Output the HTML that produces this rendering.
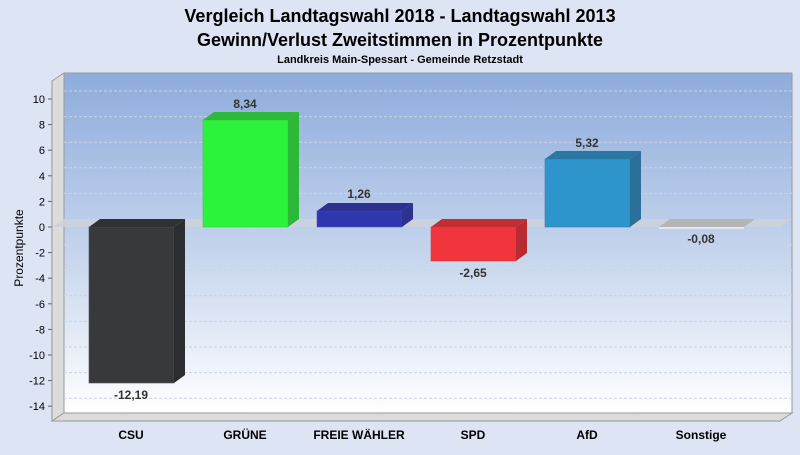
<!DOCTYPE html>
<html><head><meta charset="utf-8"><style>
body{margin:0;width:800px;height:450px;overflow:hidden;background:#dde4f3;font-family:"Liberation Sans",sans-serif}
</style></head><body>
<svg width="800" height="450" xmlns="http://www.w3.org/2000/svg" font-family="Liberation Sans, sans-serif">
<defs>
<linearGradient id="bg" x1="0" y1="0" x2="0" y2="1">
<stop offset="0" stop-color="#8eacdc"/><stop offset="0.5" stop-color="#c2d2ec"/><stop offset="1" stop-color="#ffffff"/>
</linearGradient>
</defs>
<rect width="800" height="450" fill="#dde4f3"/>
<text x="400" y="22" text-anchor="middle" font-size="18" font-weight="bold" fill="#000">Vergleich Landtagswahl 2018 - Landtagswahl 2013</text>
<text x="400" y="46" text-anchor="middle" font-size="18" font-weight="bold" fill="#000">Gewinn/Verlust Zweitstimmen in Prozentpunkte</text>
<text x="400" y="63" text-anchor="middle" font-size="11" font-weight="bold" fill="#000">Landkreis Main-Spessart - Gemeinde Retzstadt</text>
<rect x="64" y="73" width="728" height="340" fill="url(#bg)" stroke="#999" stroke-width="1"/>
<polygon points="52,81 64,73 64,413 52,421" fill="#dcdcdc" stroke="#999" stroke-width="1"/>
<polygon points="52,421 64,413 792,413 780,421" fill="#dcdcdc" stroke="#999" stroke-width="1"/>
<g stroke="#c9d3e4" stroke-width="1" stroke-dasharray="3,2" fill="none">
<line x1="64" y1="91" x2="792" y2="91"/><line x1="64" y1="116.6" x2="792" y2="116.6"/>
<line x1="64" y1="142.2" x2="792" y2="142.2"/><line x1="64" y1="167.8" x2="792" y2="167.8"/>
<line x1="64" y1="193.4" x2="792" y2="193.4"/><line x1="64" y1="244.6" x2="792" y2="244.6"/>
<line x1="64" y1="270.2" x2="792" y2="270.2"/><line x1="64" y1="295.8" x2="792" y2="295.8"/>
<line x1="64" y1="321.4" x2="792" y2="321.4"/><line x1="64" y1="347" x2="792" y2="347"/>
<line x1="64" y1="372.6" x2="792" y2="372.6"/><line x1="64" y1="398.2" x2="792" y2="398.2"/>
</g>
<polygon points="52,227 64,219 792,219 780,227" fill="#cdd2da" opacity="0.85"/>
<g stroke="#666" stroke-width="1">
<line x1="48" y1="99" x2="52" y2="99"/><line x1="48" y1="124.6" x2="52" y2="124.6"/><line x1="48" y1="150.2" x2="52" y2="150.2"/><line x1="48" y1="175.8" x2="52" y2="175.8"/><line x1="48" y1="201.4" x2="52" y2="201.4"/><line x1="48" y1="227" x2="52" y2="227"/><line x1="48" y1="252.6" x2="52" y2="252.6"/><line x1="48" y1="278.2" x2="52" y2="278.2"/><line x1="48" y1="303.8" x2="52" y2="303.8"/><line x1="48" y1="329.4" x2="52" y2="329.4"/><line x1="48" y1="355" x2="52" y2="355"/><line x1="48" y1="380.6" x2="52" y2="380.6"/><line x1="48" y1="406.2" x2="52" y2="406.2"/>
</g>
<g font-size="11" fill="#000" text-anchor="end">
<text x="45" y="103">10</text><text x="45" y="128.6">8</text><text x="45" y="154.2">6</text><text x="45" y="179.8">4</text><text x="45" y="205.4">2</text><text x="45" y="231">0</text><text x="45" y="256.6">-2</text><text x="45" y="282.2">-4</text><text x="45" y="307.8">-6</text><text x="45" y="333.4">-8</text><text x="45" y="359">-10</text><text x="45" y="384.6">-12</text><text x="45" y="410.2">-14</text>
</g>
<text transform="translate(23,248) rotate(-90)" text-anchor="middle" font-size="12" fill="#000">Prozentpunkte</text>
<rect x="89" y="227" width="85" height="156" fill="#37393d" stroke="#555" stroke-width="0.6"/>
<polygon points="89,227 100,219 185,219 174,227" fill="#2f3135"/>
<polygon points="174,227 185,219 185,375 174,383" fill="#2b2d31"/>
<rect x="203" y="120" width="85" height="107" fill="#2bf23b" stroke="#4c4" stroke-width="0.6"/>
<polygon points="203,120 214,112 299,112 288,120" fill="#2eb83c"/>
<polygon points="288,120 299,112 299,219 288,227" fill="#2db83a"/>
<rect x="317" y="211" width="85" height="16" fill="#3035b0" stroke="#55a" stroke-width="0.6"/>
<polygon points="317,211 328,203 413,203 402,211" fill="#2d3192"/>
<polygon points="402,211 413,203 413,219 402,227" fill="#2d3290"/>
<rect x="431" y="227" width="85" height="34" fill="#f0363c" stroke="#c44" stroke-width="0.6"/>
<polygon points="431,227 442,219 527,219 516,227" fill="#c22e33"/>
<polygon points="516,227 527,219 527,253 516,261" fill="#b82b30"/>
<rect x="545" y="159" width="85" height="68" fill="#2e95cc" stroke="#47a" stroke-width="0.6"/>
<polygon points="545,159 556,151 641,151 630,159" fill="#2b77a3"/>
<polygon points="630,159 641,151 641,219 630,227" fill="#2a7099"/>
<polygon points="659,227 670,219 755,219 744,227" fill="#b5b5b5"/>
<line x1="659" y1="228" x2="744" y2="228" stroke="#fff"/>
<g font-size="12" font-weight="bold" fill="#333" text-anchor="middle">
<text x="131" y="399">-12,19</text>
<text x="245" y="108">8,34</text>
<text x="359" y="198">1,26</text>
<text x="473" y="277">-2,65</text>
<text x="587" y="147">5,32</text>
<text x="701" y="243">-0,08</text>
</g>
<g font-size="12" font-weight="bold" fill="#000" text-anchor="middle">
<text x="131" y="439">CSU</text><text x="245" y="439">GRÜNE</text><text x="359" y="439">FREIE WÄHLER</text><text x="473" y="439">SPD</text><text x="587" y="439">AfD</text><text x="701" y="439">Sonstige</text>
</g>
</svg>
</body></html>
